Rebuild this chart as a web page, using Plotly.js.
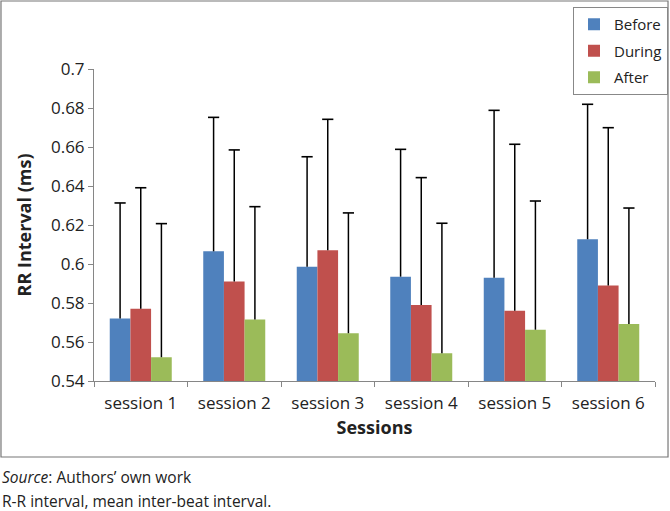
<!DOCTYPE html>
<html>
<head>
<meta charset="utf-8">
<script src="https://cdn.plot.ly/plotly-3.0.1.min.js"></script>
<style>html,body{margin:0;padding:0;background:#fff;}#chart{width:670px;height:511px;}</style>
</head>
<body>
<div id="chart"></div>
<script>
var sessions = ["session 1", "session 2", "session 3", "session 4", "session 5", "session 6"];
var before = [0.572, 0.6065, 0.5986, 0.5935, 0.593, 0.6127];
var during = [0.577, 0.591, 0.607, 0.579, 0.576, 0.589];
var after = [0.5522, 0.5716, 0.5645, 0.5542, 0.5663, 0.5692];
var sdBefore = [0.0593, 0.0687, 0.0564, 0.0653, 0.0858, 0.0692];
var sdDuring = [0.0621, 0.0675, 0.0672, 0.0653, 0.0854, 0.0809];
var sdAfter = [0.0685, 0.0578, 0.0617, 0.0667, 0.0660, 0.0595];
var yTicks = [0.54, 0.56, 0.58, 0.6, 0.62, 0.64, 0.66, 0.68, 0.7];
var yTickText = ["0.54", "0.56", "0.58", "0.6", "0.62", "0.64", "0.66", "0.68", "0.7"];

var FONT = "'Open Sans', 'DejaVu Sans', sans-serif";
var GAP = 0.337;

function zeros(a){ return a.map(function(){ return 0; }); }
function bar(name, y, sd, color){
  return {
    type: 'bar', name: name, x: sessions, y: y, legendgroup: name,
    marker: {color: color, line: {width: 0}},
    error_y: {type: 'data', array: sd, arrayminus: zeros(sd), symmetric: false,
              color: '#000', thickness: 1.5, width: 0, visible: true}
  };
}
function cap(name, y, sd){
  return {
    type: 'scatter', mode: 'markers', name: name + ' cap', showlegend: false,
    x: sessions, y: y.map(function(v, i){ return v + sd[i]; }),
    marker: {symbol: 'line-ew', size: 8, color: '#000', line: {color: '#000', width: 1.6}},
    hoverinfo: 'skip'
  };
}
var data = [
  bar('Before', before, sdBefore, '#4F81BD'),
  bar('During', during, sdDuring, '#C0504D'),
  bar('After', after, sdAfter, '#9BBB59'),
  cap('Before', before, sdBefore),
  cap('During', during, sdDuring),
  cap('After', after, sdAfter)
];

var layout = {
  width: 670, height: 511,
  margin: {l: 94, r: 15, t: 69, b: 130, autoexpand: false},
  paper_bgcolor: '#fff', plot_bgcolor: '#fff',
  barmode: 'group', bargap: GAP, bargroupgap: 0,
  scattermode: 'group', scattergap: GAP,
  font: {family: FONT, color: '#222'},
  showlegend: true,
  legend: {x: 1.0232, y: 1.1987, xanchor: 'right', yanchor: 'top',
           bordercolor: '#888', borderwidth: 1, bgcolor: '#fff',
           tracegroupgap: 4,
           font: {family: FONT, size: 15, color: '#222'}},
  xaxis: {
    type: 'category', showline: true, linecolor: '#868686', linewidth: 1,
    ticks: 'outside', tickson: 'boundaries', ticklen: 5, tickcolor: '#868686',
    ticklabelstandoff: 7,
    showgrid: false, zeroline: false,
    tickfont: {family: FONT, size: 17, color: '#222'},
    title: {text: '<b>Sessions</b>', standoff: 7, font: {family: FONT, size: 18, color: '#222'}}
  },
  yaxis: {
    range: [0.54, 0.7], showline: true, linecolor: '#868686', linewidth: 1,
    ticks: 'outside', ticklen: 5, tickcolor: '#868686',
    tickvals: yTicks, ticktext: yTickText,
    showgrid: false, zeroline: false,
    tickfont: {family: FONT, size: 17, color: '#222'},
    title: {text: '<b>RR Interval (ms)</b>', standoff: 14, font: {family: FONT, size: 18, color: '#222'}}
  },
  shapes: [{
    type: 'rect', xref: 'paper', yref: 'paper',
    x0: -0.1658, x1: 1.0232, y0: -0.2436, y1: 1.2179,
    line: {color: '#777', width: 1.2}, fillcolor: 'rgba(0,0,0,0)', layer: 'below'
  }],
  annotations: [
    {xref: 'paper', yref: 'paper', x: -0.1676, y: -0.3077, xanchor: 'left', yanchor: 'middle',
     showarrow: false, text: '<i>Source</i>: Authors\u2019 own work',
     font: {family: FONT, size: 15.5, color: '#222'}},
    {xref: 'paper', yref: 'paper', x: -0.1676, y: -0.3846, xanchor: 'left', yanchor: 'middle',
     showarrow: false, text: 'R-R interval, mean inter-beat interval.',
     font: {family: FONT, size: 15.5, color: '#222'}}
  ]
};

Plotly.newPlot('chart', data, layout, {displayModeBar: false, staticPlot: true});
</script>
</body>
</html>
